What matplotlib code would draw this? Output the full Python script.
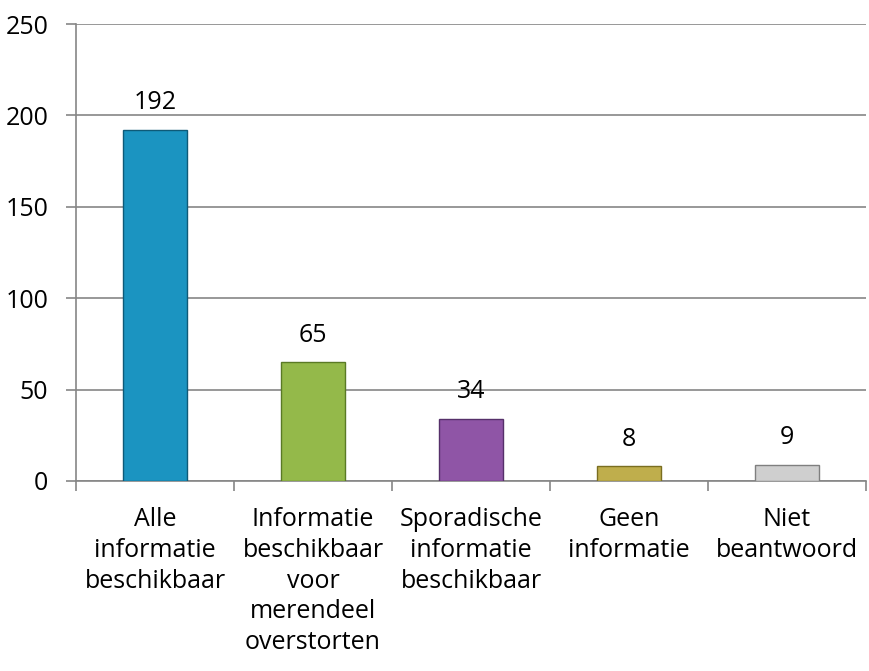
import matplotlib.pyplot as plt
import numpy as np

plt.rcParams['font.family'] = ['Open Sans', 'DejaVu Sans']

# data
categories = ["Alle\ninformatie\nbeschikbaar",
              "Informatie\nbeschikbaar\nvoor\nmerendeel\noverstorten",
              "Sporadische\ninformatie\nbeschikbaar",
              "Geen\ninformatie",
              "Niet\nbeantwoord"]
values = [192, 65, 34, 8, 9]
colors = ["#1B94C1", "#94B94A", "#8F55A6", "#BFAE4C", "#CFCFCF"]
edges = ["#0E5A78", "#5A7A25", "#56306A", "#7A6E20", "#7F7F7F"]

fig = plt.figure(figsize=(8.69, 6.71), dpi=100)
ax = fig.add_axes([0.0875, 0.2832, 0.909, 0.681])

x = np.arange(len(values))
ax.bar(x, values, width=0.40, color=colors, edgecolor=edges, linewidth=1.0, zorder=3)

for xi, v in zip(x, values):
    ax.text(xi, v + 8, str(v), ha="center", va="bottom", fontsize=18)

ax.set_xlim(-0.5, len(values) - 0.5)
ax.set_ylim(0, 250)
ax.set_yticks([0, 50, 100, 150, 200, 250])
ax.yaxis.grid(True, color="#868686", linewidth=1.2, zorder=0)
ax.set_axisbelow(True)

# category boundary ticks on x-axis
ax.set_xticks(np.arange(-0.5, len(values), 1.0))
ax.set_xticklabels([])
ax.set_xticks(x, minor=True)
ax.set_xticklabels(categories, minor=True, fontsize=18, linespacing=1.3)
ax.tick_params(axis="x", which="minor", length=0, pad=19)
ax.tick_params(axis="x", which="major", length=7, color="#868686", width=1.2)
ax.tick_params(axis="y", length=7, color="#868686", width=1.2, labelsize=18, pad=13)

for s in ["top", "right"]:
    ax.spines[s].set_visible(False)
for s in ["left", "bottom"]:
    ax.spines[s].set_color("#868686")
    ax.spines[s].set_linewidth(1.2)

fig.savefig("out.png", dpi=100)
